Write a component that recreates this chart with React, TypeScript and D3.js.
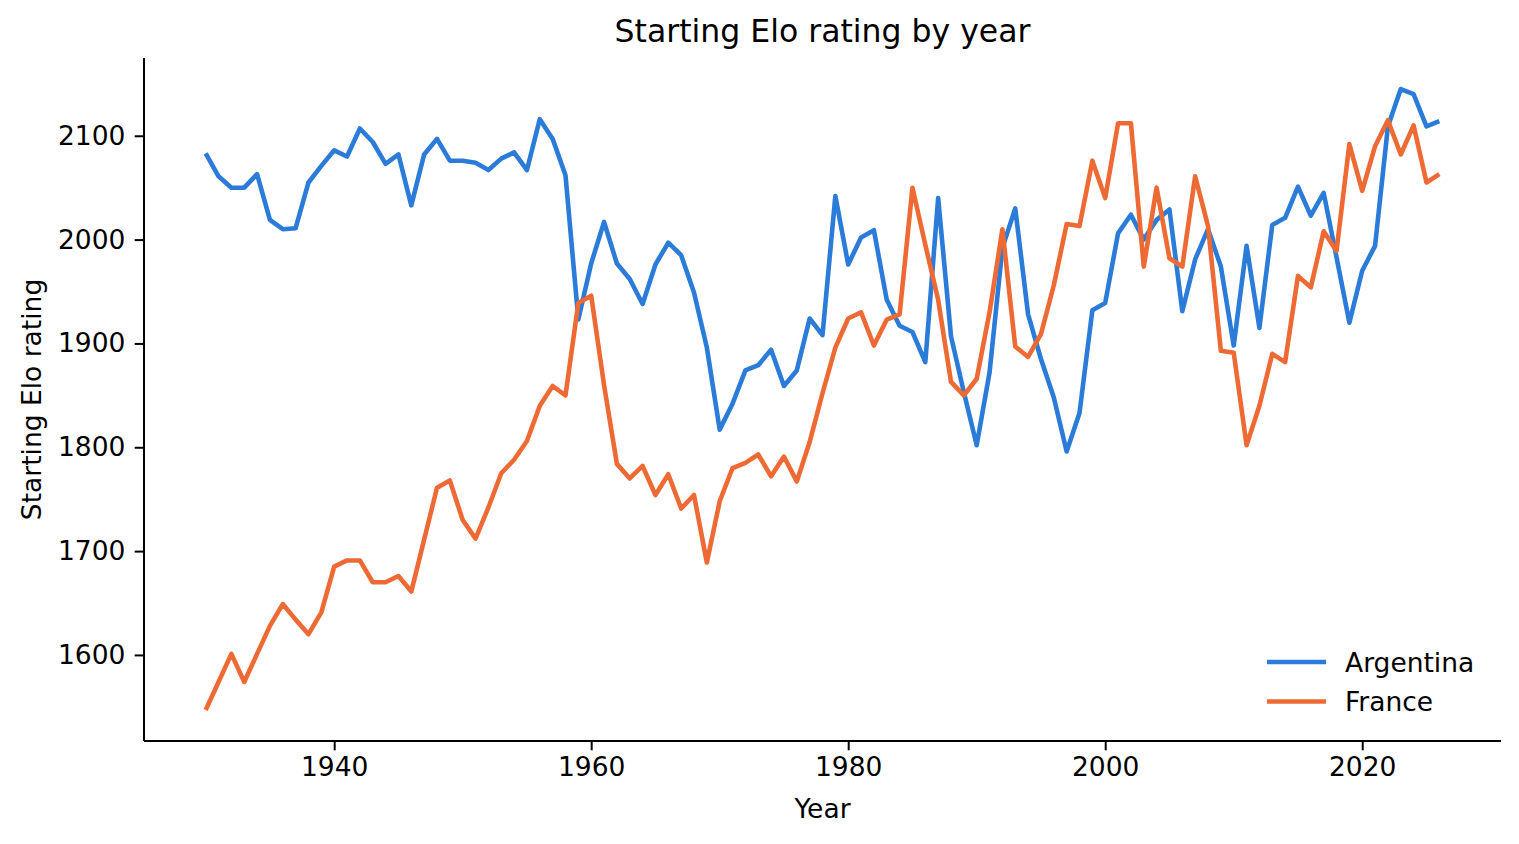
import React, { useRef, useEffect } from 'react';
import * as d3 from 'd3';

const years: number[] = d3.range(1930, 2027);

const argentina: number[] = [
  2083, 2061, 2050, 2050, 2063, 2019, 2010, 2011, 2055, 2071,
  2086, 2080, 2107, 2094, 2073, 2082, 2033, 2082, 2097, 2076,
  2076, 2074, 2067, 2078, 2084, 2067, 2116, 2097, 2062, 1923,
  1977, 2017, 1977, 1962, 1938, 1976, 1997, 1985, 1949, 1896,
  1817, 1842, 1874, 1879, 1894, 1859, 1874, 1924, 1908, 2042,
  1976, 2002, 2009, 1942, 1917, 1911, 1882, 2040, 1907, 1853,
  1802, 1872, 1992, 2030, 1928, 1885, 1848, 1796, 1833, 1932,
  1939, 2006, 2024, 2000, 2019, 2029, 1931, 1981, 2010, 1974,
  1898, 1994, 1915, 2014, 2021, 2051, 2023, 2045, 1983, 1920,
  1970, 1994, 2109, 2145, 2140, 2109, 2114,
];

const france: number[] = [
  1547, 1574, 1601, 1574, 1601, 1628, 1649, 1634, 1620, 1641,
  1685, 1691, 1691, 1670, 1670, 1676, 1661, 1711, 1761, 1768,
  1730, 1712, 1742, 1775, 1788, 1806, 1840, 1859, 1850, 1939,
  1946, 1860, 1784, 1770, 1782, 1754, 1774, 1741, 1754, 1689,
  1748, 1780, 1785, 1793, 1772, 1791, 1767, 1805, 1852, 1896,
  1924, 1930, 1898, 1923, 1928, 2050, 1995, 1942, 1863, 1850,
  1866, 1930, 2010, 1897, 1887, 1909, 1956, 2015, 2013, 2076,
  2040, 2112, 2112, 1974, 2050, 1982, 1974, 2061, 2013, 1893,
  1891, 1802, 1840, 1890, 1882, 1965, 1954, 2008, 1989, 2092,
  2047, 2090, 2115, 2082, 2110, 2055, 2063,
];

const seriesNames: string[] = ['Argentina', 'France'];
const seriesColors: string[] = ['#2b7bd8', '#ee6a35'];
const yTicks: number[] = [1600, 1700, 1800, 1900, 2000, 2100];
const xTicks: number[] = [1940, 1960, 1980, 2000, 2020];

const FONT = '"DejaVu Sans", sans-serif';

const EloChart: React.FC = () => {
  const svgRef = useRef<SVGSVGElement | null>(null);
  const width = 1519;
  const height = 844;
  const margin = { top: 58, right: 18, bottom: 103, left: 144 };

  useEffect(() => {
    if (!svgRef.current) return;
    const chartWidth = width - margin.left - margin.right;
    const chartHeight = height - margin.top - margin.bottom;

    const svg = d3.select(svgRef.current);
    svg.selectAll('*').remove();
    const g = svg.append('g').attr('transform', `translate(${margin.left},${margin.top})`);

    // matplotlib style 5% padding
    const xExt = d3.extent(years) as [number, number];
    const xPad = (xExt[1] - xExt[0]) * 0.05;
    const allVals = argentina.concat(france);
    const yExt = d3.extent(allVals) as [number, number];
    const yPad = (yExt[1] - yExt[0]) * 0.05;

    const x = d3.scaleLinear().domain([xExt[0] - xPad, xExt[1] + xPad]).range([0, chartWidth]);
    const y = d3.scaleLinear().domain([yExt[0] - yPad, yExt[1] + yPad]).range([chartHeight, 0]);

    const line = d3.line<number>()
      .x((_, i) => x(years[i]))
      .y(d => y(d));

    [argentina, france].forEach((s, i) => {
      g.append('path')
        .datum(s)
        .attr('fill', 'none')
        .attr('stroke', seriesColors[i])
        .attr('stroke-width', 4.6)
        .attr('stroke-linejoin', 'round')
        .attr('stroke-linecap', 'butt')
        .attr('d', line);
    });

    // X axis
    const xAxis = g.append('g')
      .attr('transform', `translate(0,${chartHeight})`)
      .call(d3.axisBottom(x).tickValues(xTicks).tickFormat(d3.format('d')).tickSize(9.3).tickPadding(7));
    xAxis.select('.domain').attr('stroke', '#000').attr('stroke-width', 2).attr('d', `M0,0H${chartWidth}`);
    xAxis.selectAll('.tick line').attr('stroke', '#000').attr('stroke-width', 2);
    xAxis.selectAll('.tick text').attr('font-size', 26.5).attr('font-family', FONT).attr('fill', '#000');

    // Y axis
    const yAxis = g.append('g')
      .call(d3.axisLeft(y).tickValues(yTicks).tickFormat(d3.format('d')).tickSize(9.3).tickPadding(9.3));
    yAxis.select('.domain').attr('stroke', '#000').attr('stroke-width', 2).attr('d', `M0,0V${chartHeight}`);
    yAxis.selectAll('.tick line').attr('stroke', '#000').attr('stroke-width', 2);
    yAxis.selectAll('.tick text').attr('font-size', 26.5).attr('font-family', FONT).attr('fill', '#000');

    // Title
    svg.append('text')
      .attr('x', margin.left + chartWidth / 2)
      .attr('y', 42)
      .attr('text-anchor', 'middle')
      .attr('font-family', FONT)
      .attr('font-size', 31.5)
      .attr('fill', '#000')
      .text('Starting Elo rating by year');

    // Axis labels
    svg.append('text')
      .attr('x', margin.left + chartWidth / 2)
      .attr('y', 818)
      .attr('text-anchor', 'middle')
      .attr('font-family', FONT)
      .attr('font-size', 26.5)
      .attr('fill', '#000')
      .text('Year');

    svg.append('text')
      .attr('transform', `translate(41,${margin.top + chartHeight / 2}) rotate(-90)`)
      .attr('text-anchor', 'middle')
      .attr('font-family', FONT)
      .attr('font-size', 26.5)
      .attr('fill', '#000')
      .text('Starting Elo rating');

    // Legend
    const legend = svg.append('g').attr('transform', 'translate(1267,662)');
    seriesNames.forEach((name, i) => {
      const row = legend.append('g').attr('transform', `translate(0,${i * 39.5})`);
      row.append('line')
        .attr('x1', 0).attr('x2', 59)
        .attr('y1', 0).attr('y2', 0)
        .attr('stroke', seriesColors[i])
        .attr('stroke-width', 4.6);
      row.append('text')
        .attr('x', 78)
        .attr('y', 0)
        .attr('dy', '0.36em')
        .attr('font-family', FONT)
        .attr('font-size', 26.5)
        .attr('fill', '#000')
        .text(name);
    });

    return () => {
      d3.select(svgRef.current).selectAll('*').remove();
    };
  }, []);

  return <svg ref={svgRef} width={width} height={height} style={{ display: 'block', background: '#fff' }}></svg>;
};

export default function App() {
  useEffect(() => {
    document.body.style.margin = '0';
  }, []);
  return (
    <div>
      <EloChart />
    </div>
  );
}
